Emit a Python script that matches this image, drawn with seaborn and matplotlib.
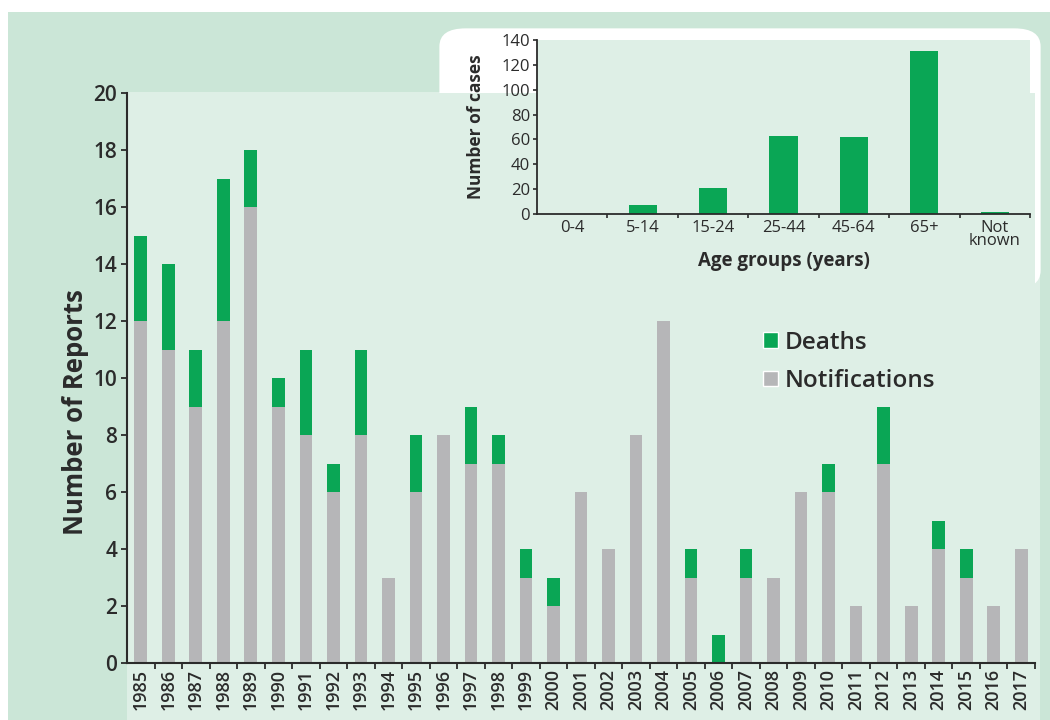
import numpy as np
import pandas as pd
import seaborn as sns
import matplotlib.pyplot as plt
from matplotlib.patches import Patch, Rectangle, FancyBboxPatch

sns.set_style("ticks")
plt.rcParams["font.family"] = ["Open Sans", "DejaVu Sans"]

# data

years = [str(y) for y in range(1985, 2018)]
notifications = [12, 11, 9, 12, 16, 9, 8, 6, 8, 3, 6, 8, 7, 7, 3, 2,
                 6, 4, 8, 12, 3, 0, 3, 3, 6, 6, 2, 7, 2, 4, 3, 2, 4]
deaths = [3, 3, 2, 5, 2, 1, 3, 1, 3, 0, 2, 0, 2, 1, 1, 1,
          0, 0, 0, 0, 1, 1, 1, 0, 0, 1, 0, 2, 0, 1, 1, 0, 0]

age_groups = ["0-4", "5-14", "15-24", "25-44", "45-64", "65+", "Not\nknown"]
age_cases = [0, 7, 21, 63, 62, 131, 2]

GREEN = "#0aa655"
GREY = "#b6b6b8"
PANEL = "#cbe6d7"
PLOT_BG = "#deefe6"
INK = "#2b2b2b"

df = pd.DataFrame({"year": years, "notifications": notifications, "deaths": deaths})
df["total"] = df["notifications"] + df["deaths"]
ages = pd.DataFrame({"age": age_groups, "cases": age_cases})

W, H = 1050, 720
fig = plt.figure(figsize=(10.5, 7.2), dpi=100, facecolor="white")

# background panels
fig.patches.append(Rectangle((8 / W, 0), 1 - 8 / W, (H - 12) / H, transform=fig.transFigure,
                             facecolor=PANEL, edgecolor="none", zorder=-3))
fig.patches.append(Rectangle((127 / W, 0), (1040 - 127) / W, (H - 92) / H, transform=fig.transFigure,
                             facecolor=PLOT_BG, edgecolor="none", zorder=-2))

# main chart
ax = fig.add_axes([127 / W, (H - 663) / H, 908 / W, 570 / H])
ax.set_facecolor(PLOT_BG)
sns.barplot(data=df, x="year", y="total", color=GREEN, width=0.46, saturation=1,
            linewidth=0, ax=ax)
sns.barplot(data=df, x="year", y="notifications", color=GREY, width=0.46, saturation=1,
            linewidth=0, ax=ax)

ax.set_ylim(0, 20)
ax.set_yticks(range(0, 21, 2))
ax.set_xlim(-0.5, len(years) - 0.5)
ax.set_xlabel("")
ax.set_ylabel("Number of Reports", fontsize=18.5, fontweight="bold", color=INK)
ax.yaxis.set_label_coords(-0.042, 0.44)
ax.tick_params(axis="y", labelsize=15, colors=INK, length=4, width=1.3, pad=3)
ax.tick_params(axis="x", labelsize=13, colors=INK, length=0, rotation=90, pad=4)
ax.set_xticks(np.arange(len(years)) + 0.5, minor=True)
ax.tick_params(axis="x", which="minor", length=4, width=1.3, color=INK)
for lab in ax.get_xticklabels() + ax.get_yticklabels():
    lab.set_fontweight("semibold")
sns.despine(ax=ax)
for s in ["left", "bottom"]:
    ax.spines[s].set_linewidth(1.5)
    ax.spines[s].set_color(INK)

handles = [Patch(facecolor=GREEN, label="Deaths"), Patch(facecolor=GREY, label="Notifications")]
leg = ax.legend(handles=handles, loc="upper left", bbox_to_anchor=(0.69, 0.6), frameon=False,
                fontsize=17.5, handlelength=0.6, handleheight=0.6, handletextpad=0.3,
                labelspacing=0.6, borderaxespad=0)
for t in leg.get_texts():
    t.set_color(INK)
    t.set_fontweight("semibold")

# inset white box
fig.patches.append(FancyBboxPatch((452 / W, (H - 280) / H), (1028 - 452) / W, (280 - 37) / H,
                                  boxstyle="round,pad=0.012,rounding_size=0.025",
                                  transform=fig.transFigure, facecolor="white",
                                  edgecolor="none", zorder=-1))

# inset chart: age groups
ax2 = fig.add_axes([537 / W, (H - 214) / H, 493 / W, 174 / H])
ax2.set_facecolor(PLOT_BG)
sns.barplot(data=ages, x="age", y="cases", color=GREEN, width=0.4, saturation=1,
            linewidth=0, ax=ax2)
ax2.set_ylim(0, 140)
ax2.set_yticks(range(0, 141, 20))
ax2.set_xlim(-0.5, len(age_groups) - 0.5)
ax2.set_xlabel("Age groups (years)", fontsize=13.5, fontweight="bold", color=INK, labelpad=1)
ax2.set_ylabel("Number of cases", fontsize=12.5, fontweight="bold", color=INK)
ax2.yaxis.set_label_coords(-0.105, 0.5)
ax2.tick_params(axis="y", labelsize=12, colors=INK, length=3, width=1.2, pad=2)
ax2.tick_params(axis="x", labelsize=12, colors=INK, length=0, pad=4)
ax2.set_xticks(np.arange(len(age_groups)) + 0.5, minor=True)
ax2.tick_params(axis="x", which="minor", length=3, width=1.2, color=INK)
for lab in ax2.get_xticklabels():
    lab.set_linespacing(0.8)
sns.despine(ax=ax2)
for s in ["left", "bottom"]:
    ax2.spines[s].set_linewidth(1.3)
    ax2.spines[s].set_color(INK)

fig.savefig("out.png", dpi=100, facecolor=fig.get_facecolor())
plt.close()
